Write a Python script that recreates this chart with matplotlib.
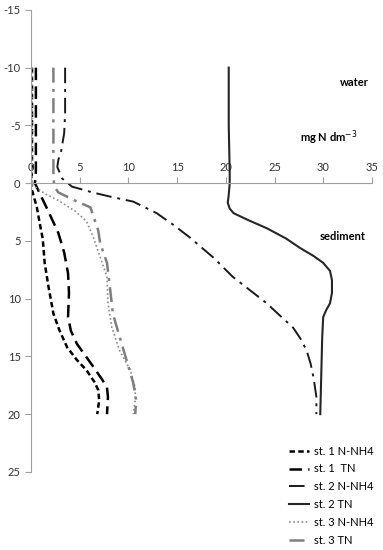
import matplotlib
matplotlib.use("Agg")
import matplotlib.pyplot as plt

plt.rcParams['font.family'] = ['Lato', 'DejaVu Sans']
plt.rcParams['axes.unicode_minus'] = False

# depth profiles (y = depth, x = mg N dm-3)
st1_nh4_y = [-10, -5, -1, 0, 0.6, 2.1, 3.5, 4.8, 6.9, 9.0, 11.3, 12.7, 14.2, 15.3, 16.2, 17.2, 17.9, 18.8, 20]
st1_nh4_x = [0.1, 0.1, 0.1, 0.0, 0.1, 0.6, 0.9, 1.2, 1.4, 1.8, 2.3, 2.9, 3.7, 4.7, 5.7, 6.5, 6.9, 7.0, 6.8]

st1_tn_y = [-10, -5, -1, 0, 0.9, 2.3, 4.3, 6.0, 7.8, 9.5, 11.6, 12.8, 13.9, 15.9, 17.0, 17.7, 18.5, 20]
st1_tn_x = [0.5, 0.5, 0.5, 0.4, 0.9, 1.7, 2.8, 3.4, 3.8, 3.9, 3.8, 4.1, 4.7, 6.4, 7.3, 7.8, 7.9, 7.8]

st2_nh4_y = [-10, -6, -4.3, -2.8, -2.0, -1.4, -0.4, 0.3, 0.8, 1.2, 1.6, 2.6, 3.6, 4.7, 6.5, 8.1, 10.4, 11.5, 12.5, 13.5, 14.5, 15.6, 16.8, 18.5, 20]
st2_nh4_x = [3.5, 3.5, 3.4, 3.1, 2.8, 2.7, 3.2, 4.2, 6.3, 8.3, 10.5, 12.9, 14.6, 16.3, 18.8, 20.7, 24.2, 25.6, 26.9, 27.7, 28.3, 28.7, 29.0, 29.3, 29.3]

st2_tn_y = [-10, -5, -1, 0, 1.0, 1.7, 2.2, 2.6, 3.2, 3.9, 4.8, 5.6, 6.3, 6.9, 7.6, 8.4, 9.5, 10.4, 11.0, 11.6, 13.3, 20]
st2_tn_x = [20.3, 20.3, 20.4, 20.4, 20.3, 20.2, 20.4, 20.8, 22.3, 24.2, 26.2, 27.6, 29.0, 30.0, 30.7, 30.9, 30.9, 30.7, 30.3, 30.0, 29.9, 29.7]

st3_nh4_y = [-10, -5, -1, 0, 0.2, 0.9, 1.5, 2.4, 3.3, 4.7, 6.4, 8.1, 10.4, 12.5, 14.5, 16.2, 17.7, 18.8, 20]
st3_nh4_x = [0.1, 0.1, 0.1, 0.1, 0.2, 1.4, 2.8, 4.5, 5.7, 6.4, 7.1, 7.8, 7.9, 8.3, 9.1, 10.2, 10.7, 10.7, 10.5]

st3_tn_y = [-10, -5, -2, -0.5, 0.3, 0.8, 1.5, 2.1, 2.6, 4.1, 5.2, 6.9, 9.0, 11.3, 13.3, 15.3, 17.3, 18.8, 20]
st3_tn_x = [2.3, 2.3, 2.3, 2.3, 2.4, 2.8, 4.5, 6.1, 6.3, 6.9, 7.1, 7.8, 8.1, 8.4, 9.1, 9.8, 10.5, 10.8, 10.7]

fig = plt.figure(figsize=(3.83, 5.5), dpi=100)
ax = fig.add_axes([0.081, 0.142, 0.890, 0.840])

ax.plot(st1_nh4_x, st1_nh4_y, color='black', lw=1.8, linestyle=(0, (2.2, 1.3)), label='st. 1 N-NH4')
ax.plot(st1_tn_x, st1_tn_y, color='black', lw=1.8, linestyle=(0, (5, 2.5)), label='st. 1  TN')
ax.plot(st2_nh4_x, st2_nh4_y, color='#1a1a1a', lw=1.4, linestyle=(0, (8, 3, 1.5, 3)), label='st. 2 N-NH4')
ax.plot(st2_tn_x, st2_tn_y, color='#262626', lw=1.5, linestyle='-', label='st. 2 TN')
ax.plot(st3_nh4_x, st3_nh4_y, color='#8c8c8c', lw=1.2, linestyle=(0, (1, 1.5)), label='st. 3 N-NH4')
ax.plot(st3_tn_x, st3_tn_y, color='#7f7f7f', lw=1.8, linestyle=(0, (6, 2.5, 1.2, 2.5)), label='st. 3 TN')

ax.set_xlim(0, 35)
ax.set_ylim(25, -15)
ax.set_xticks(range(0, 36, 5))
ax.set_yticks(range(-15, 26, 5))

ax.spines['right'].set_visible(False)
ax.spines['bottom'].set_visible(False)
ax.spines['top'].set_position(('data', 0))
ax.spines['top'].set_color('#a0a0a0')
ax.spines['left'].set_color('#a0a0a0')
ax.xaxis.tick_top()
ax.tick_params(axis='both', colors='#a0a0a0', labelcolor='#333333', labelsize=8, length=4, width=0.8)

ax.text(33.2, -8.7, 'water', fontsize=8, fontweight='bold', ha='center', va='center')
ax.text(30.6, -3.9, 'mg N dm$^{-3}$', fontsize=8, fontweight='bold', ha='center', va='center')
ax.text(32.0, 4.6, 'sediment', fontsize=8, fontweight='bold', ha='center', va='center')

fig.legend(loc='upper left', bbox_to_anchor=(283 / 383, 1 - 440 / 550), frameon=False,
           fontsize=8, handlelength=1.8, handletextpad=0.5, labelspacing=0.62, borderpad=0)

fig.savefig('out.png', dpi=100)
